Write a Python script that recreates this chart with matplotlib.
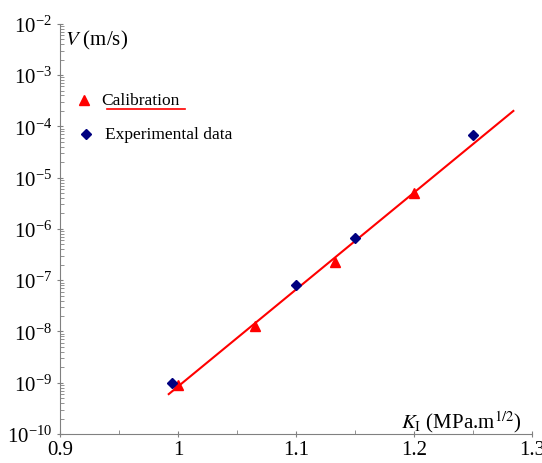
import numpy as np
import matplotlib.pyplot as plt
from matplotlib.ticker import LogLocator, FixedLocator, MultipleLocator, FuncFormatter

plt.rcParams['font.family'] = ['Liberation Serif', 'DejaVu Serif']
plt.rcParams['mathtext.fontset'] = 'stix'

# calibration points (triangles)
calib_k = [1.0, 1.065, 1.133, 1.2]
calib_v = [9e-10, 1.3e-8, 2.3e-7, 5.1e-6]

# experimental data (diamonds)
exp_k = [0.995, 1.1, 1.15, 1.25]
exp_v = [1.0e-9, 8.0e-8, 6.6e-7, 6.9e-5]

# fitted line ends
line_k = [0.992, 1.284]
line_v = [6e-10, 2e-4]

fig = plt.figure(figsize=(5.42, 4.64), dpi=100)
ax = fig.add_axes([0.111, 0.0625, 0.871, 0.884])

ax.plot(line_k, line_v, color='red', lw=1.5, zorder=2)
ax.plot(calib_k, calib_v, '^', color='red', ms=7, ls='none', zorder=3)
ax.plot(exp_k, exp_v, 'D', color='#000080', ms=5, ls='none', zorder=3)

ax.set_yscale('log')
ax.set_xlim(0.9, 1.3)
ax.set_ylim(1e-10, 1e-2)

ax.xaxis.set_major_locator(FixedLocator([0.9, 1.0, 1.1, 1.2, 1.3]))
ax.xaxis.set_minor_locator(MultipleLocator(0.05))
ax.xaxis.set_major_formatter(FuncFormatter(lambda v, p: '%g' % round(v, 2)))
ax.yaxis.set_major_locator(LogLocator(base=10, numticks=20))
ax.yaxis.set_minor_locator(LogLocator(base=10, subs=np.arange(2, 10), numticks=20))
ax.yaxis.set_major_formatter(FuncFormatter(lambda v, p: r'$\mathregular{10^{%d}}$' % round(np.log10(v))))

for s in ['top', 'right']:
    ax.spines[s].set_visible(False)
for s in ['left', 'bottom']:
    ax.spines[s].set_color('#808080')

ax.tick_params(which='major', direction='inout', length=5, color='#808080', labelsize=15, labelcolor='black')
ax.tick_params(which='minor', direction='in', length=3, color='#808080')
ax.tick_params(axis='x', pad=2)

# axis titles inside the plot
ax.text(0.904, 5e-3, r'$V$ (m/s)', fontsize=15, va='center', ha='left')
ax.text(1.24, 1.8e-10, r'$K_\mathregular{I}$ (MPa.m$^{1/2}$)', fontsize=15, va='center', ha='center')

# manual legend
ax.plot([0.92], [3.2e-4], '^', color='red', ms=7)
ax.text(0.935, 3.2e-4, 'Calibration', fontsize=12.5, va='center', ha='left')
ax.plot([0.94, 1.006], [2.2e-4, 2.2e-4], color='red', lw=1.2)
ax.plot([0.922], [7e-5], 'D', color='#000080', ms=5)
ax.text(0.938, 7e-5, 'Experimental data', fontsize=12.5, va='center', ha='left')

fig.savefig('out.png', dpi=100)
